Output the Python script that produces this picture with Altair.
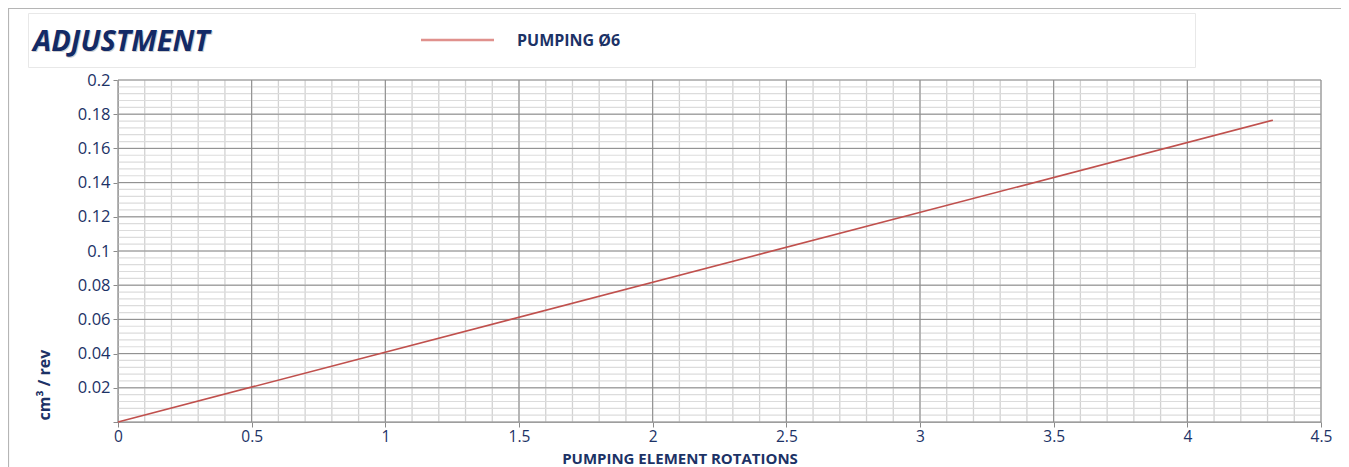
import altair as alt
import pandas as pd

# ---- data ----
rotations = [0.0, 4.32]
flow = [0.0, 0.1765]
series_name = "PUMPING Ø6"

x_major = [0, 0.5, 1, 1.5, 2, 2.5, 3, 3.5, 4, 4.5]
y_major = [0, 0.02, 0.04, 0.06, 0.08, 0.1, 0.12, 0.14, 0.16, 0.18, 0.2]
x_minor = [round(i * 0.1, 1) for i in range(46)]
y_minor = [round(i * 0.004, 3) for i in range(51)]

title_text = "ADJUSTMENT"
x_title = "PUMPING ELEMENT ROTATIONS"
y_title = "cm³ / rev"

NAVY = "#1c3266"
RED = "#c0504d"
FONT = "Open Sans"

W, H = 1203, 342

xs = alt.Scale(domain=[0, 4.5], nice=False, zero=False)
ys = alt.Scale(domain=[0, 0.2], nice=False, zero=False)

axis_common = dict(
    grid=False, domainColor="#8a8a8a", tickColor="#8a8a8a", tickSize=5,
    labelColor=NAVY, labelFont=FONT, title=None,
)
ax_x = alt.Axis(values=x_major, labelExpr="format(datum.value, '.1~f')",
                labelPadding=2, labelFlush=False, labelFontSize=15.5, **axis_common)
ax_y = alt.Axis(values=y_major,
                labelExpr="datum.value == 0 ? '' : format(datum.value, '.2~f')",
                labelPadding=3, labelFontSize=16.5, **axis_common)

line_df = pd.DataFrame({"rot": rotations, "flow": flow, "s": series_name})

xminor = alt.Chart(pd.DataFrame({"v": x_minor})).mark_rule(color="#d2d2d2", strokeWidth=1.3).encode(
    x=alt.X("v:Q", scale=xs, axis=ax_x))
yminor = alt.Chart(pd.DataFrame({"v": y_minor})).mark_rule(color="#dcdcdc", strokeWidth=1.2).encode(
    y=alt.Y("v:Q", scale=ys, axis=ax_y))
xmajor = alt.Chart(pd.DataFrame({"v": x_major})).mark_rule(color="#8a8a8a", strokeWidth=1).encode(
    x=alt.X("v:Q", scale=xs, axis=ax_x))
ymajor = alt.Chart(pd.DataFrame({"v": y_major})).mark_rule(color="#8a8a8a", strokeWidth=1).encode(
    y=alt.Y("v:Q", scale=ys, axis=ax_y))

line = alt.Chart(line_df).mark_line(color=RED, strokeWidth=1.6).encode(
    x=alt.X("rot:Q", scale=xs, axis=ax_x),
    y=alt.Y("flow:Q", scale=ys, axis=ax_y),
)

one = pd.DataFrame({"k": [0]})

frame = alt.Chart(one).mark_rect(fill=None, stroke="#b5b5b5", strokeWidth=1.2).encode(
    x=alt.value(-109.5), x2=alt.value(1300), y=alt.value(-71.5), y2=alt.value(500))
box = alt.Chart(one).mark_rect(fill="white", stroke="#e8e8e8", strokeWidth=1).encode(
    x=alt.value(-89.5), x2=alt.value(1077.5), y=alt.value(-66.5), y2=alt.value(-12.5))

title_df = pd.DataFrame({"t": [title_text]})
title_shadow = alt.Chart(title_df).mark_text(
    align="left", baseline="middle", font=FONT, fontSize=29, fontWeight="bold",
    fontStyle="italic", color="#b0b0b0", opacity=0.6).encode(
    text="t:N", x=alt.value(-84), y=alt.value(-36.8))
title = alt.Chart(title_df).mark_text(
    align="left", baseline="middle", font=FONT, fontSize=29, fontWeight="bold",
    fontStyle="italic", color="#132a66").encode(
    text="t:N", x=alt.value(-85), y=alt.value(-38))

leg_line = alt.Chart(one).mark_rule(color="#e0918d", strokeWidth=2.5).encode(
    x=alt.value(303), x2=alt.value(376), y=alt.value(-40))
leg_text = alt.Chart(pd.DataFrame({"t": [series_name]})).mark_text(
    align="left", baseline="middle", font=FONT, fontSize=16, fontWeight="bold",
    color=NAVY).encode(text="t:N", x=alt.value(399), y=alt.value(-39))

xt = alt.Chart(pd.DataFrame({"t": [x_title]})).mark_text(
    align="center", baseline="middle", font=FONT, fontSize=15, fontWeight="bold",
    color=NAVY).encode(text="t:N", x=alt.value(562), y=alt.value(379))
yt = alt.Chart(pd.DataFrame({"t": [y_title]})).mark_text(
    align="center", baseline="middle", font=FONT, fontSize=16, fontWeight="bold",
    color=NAVY, angle=270).encode(text="t:N", x=alt.value(-73), y=alt.value(305))

chart = alt.layer(
    frame, box, xminor, yminor, xmajor, ymajor, line,
    title_shadow, title, leg_line, leg_text, xt, yt,
).properties(
    width=W, height=H,
    autosize=alt.AutoSizeParams(type="none"),
    padding={"left": 110, "top": 72, "right": 20, "bottom": 45},
).configure_view(stroke=None)

chart.save("out.html", embed_options={"renderer": "svg", "actions": False})
